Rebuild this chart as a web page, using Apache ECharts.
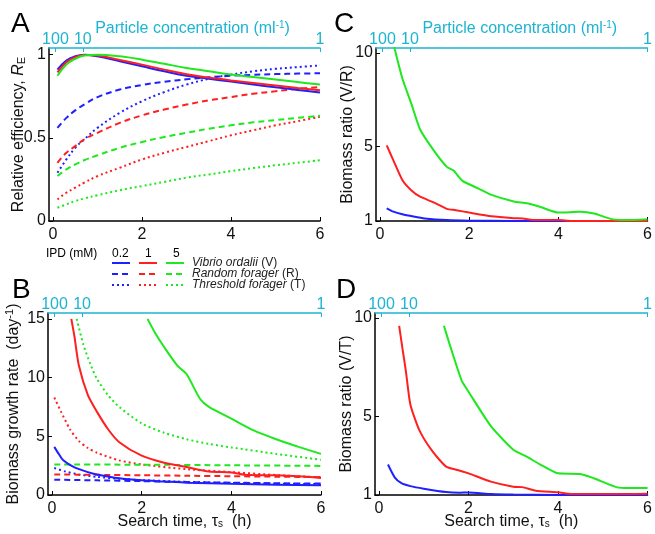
<!DOCTYPE html>
<html>
<head>
<meta charset="utf-8">
<script src="https://cdn.jsdelivr.net/npm/echarts@6/dist/echarts.min.js"></script>
<style>html,body{margin:0;padding:0;background:#fff}#c{width:655px;height:534px}</style>
</head>
<body>
<div id="c"></div>
<script>
// ---------- DATA ----------
const ipdLevels = ['0.2', '1', '5'];
const xTicks = [0, 2, 4, 6];
const topTickPos = [0.055, 0.67, 6];          // search time where concentration = 100, 10, 1
const topTickLabels = ['100', '10', '1'];
const yTicksA = [0, 0.5, 1];
const yTicksB = [0, 5, 10, 15];
const yTicksCD = [1, 5, 10];

// Panel A: relative efficiency
const xA = [0.1, 0.3, 0.5, 0.7, 1, 1.5, 2, 2.5, 3, 3.5, 4, 4.5, 5, 5.5, 6];
const A_V02 = [0.91, 0.965, 0.99, 1.0, 0.99, 0.96, 0.93, 0.9, 0.873, 0.855, 0.838, 0.82, 0.804, 0.788, 0.772];
const A_V1  = [0.893, 0.955, 0.985, 0.998, 0.995, 0.968, 0.94, 0.91, 0.882, 0.862, 0.845, 0.83, 0.815, 0.8, 0.786];
const A_V5  = [0.873, 0.94, 0.975, 0.995, 1.0, 0.99, 0.97, 0.945, 0.92, 0.9, 0.88, 0.865, 0.85, 0.835, 0.82];
const A_R02 = [0.56, 0.62, 0.665, 0.7, 0.745, 0.79, 0.818, 0.837, 0.852, 0.864, 0.873, 0.879, 0.883, 0.886, 0.888];
const A_R1  = [0.35, 0.41, 0.45, 0.49, 0.53, 0.59, 0.635, 0.67, 0.7, 0.725, 0.745, 0.765, 0.78, 0.795, 0.805];
const A_R5  = [0.27, 0.31, 0.34, 0.365, 0.395, 0.44, 0.475, 0.505, 0.53, 0.555, 0.575, 0.593, 0.607, 0.62, 0.632];
const A_T02 = [0.29, 0.37, 0.44, 0.49, 0.56, 0.65, 0.72, 0.775, 0.82, 0.855, 0.88, 0.9, 0.915, 0.925, 0.935];
const A_T1  = [0.13, 0.17, 0.2, 0.23, 0.27, 0.32, 0.37, 0.41, 0.445, 0.48, 0.515, 0.545, 0.575, 0.6, 0.627];
const A_T5  = [0.08, 0.1, 0.12, 0.135, 0.155, 0.185, 0.21, 0.235, 0.26, 0.28, 0.3, 0.318, 0.335, 0.35, 0.365];

// Panel B: biomass growth rate [search time, rate]
const B_V02 = [[0.05,4.1],[0.15,3.5],[0.25,2.95],[0.5,2.35],[0.8,1.95],[1,1.75],[1.5,1.42],[2,1.25],[2.5,1.15],[3,1.05],[4,0.95],[5,0.88],[6,0.82]];
const B_V1  = [[0.43,15],[0.5,13.5],[0.6,11],[0.8,8.5],[1,7.1],[1.25,5.6],[1.5,4.5],[2,3.35],[2.5,2.75],[3,2.38],[3.5,2.0],[4,1.92],[4.3,1.72],[5,1.68],[5.5,1.6],[6,1.45]];
const B_V5  = [[2.13,15],[2.3,13.8],[2.5,12.6],[2.8,11.0],[3.0,10.3],[3.3,8.2],[3.5,7.5],[4,6.5],[4.5,5.5],[5,4.75],[5.5,4.1],[6,3.5]];
const B_R02 = [[0.05,1.3],[1,1.25],[2,1.18],[3,1.1],[4,1.05],[5,1.0],[6,0.97]];
const B_R1  = [[0.05,1.75],[1,1.72],[2,1.68],[3,1.64],[4,1.6],[5,1.56],[6,1.52]];
const B_R5  = [[0.05,2.6],[2,2.58],[4,2.53],[6,2.48]];
const B_T02 = [[0.05,2.3],[0.3,2.0],[0.6,1.75],[1,1.55],[1.5,1.38],[2,1.27],[3,1.12],[4,1.03],[5,0.97],[6,0.92]];
const B_T1  = [[0.05,8.3],[0.2,7.1],[0.4,5.6],[0.6,4.6],[0.8,4.0],[1,3.6],[1.5,2.95],[2,2.6],[3,2.2],[4,1.95],[5,1.7],[6,1.5]];
const B_T5  = [[0.55,15],[0.7,12.8],[0.85,11.2],[1,9.9],[1.25,8.5],[1.5,7.5],[2,6.1],[2.5,5.3],[3,4.75],[3.5,4.35],[4,4.05],[5,3.5],[6,3.0]];

// Panel C: biomass ratio V/R
const C_02 = [[0.15,1.68],[0.3,1.5],[0.5,1.36],[0.75,1.24],[1,1.14],[1.5,1.05],[2,1.02],[3,1.0],[4,1.0],[5,1.0],[6,1.0]];
const C_1  = [[0.15,5.05],[0.3,4.25],[0.5,3.2],[0.7,2.65],[0.9,2.3],[1.2,2.0],[1.5,1.65],[1.7,1.58],[2,1.45],[2.5,1.25],[3,1.15],[3.2,1.13],[3.5,1.05],[4,1.05],[4.3,1.0],[5,1.0],[6,1.0]];
const C_5  = [[0.3,10.5],[0.5,8.65],[0.7,7.3],[0.9,5.9],[1.2,4.8],[1.5,3.9],[1.65,3.7],[1.85,3.15],[2.2,2.75],[2.5,2.4],[3,2.05],[3.3,1.95],[3.6,1.75],[4,1.45],[4.5,1.5],[4.8,1.4],[5.2,1.1],[5.5,1.05],[6,1.1]];

// Panel D: biomass ratio V/T
const D_02 = [[0.2,2.55],[0.35,1.9],[0.5,1.6],[0.7,1.45],[1,1.32],[1.5,1.15],[1.8,1.12],[2,1.13],[2.5,1.05],[3,1.02],[4,1.0],[5,1.0],[6,1.0]];
const D_1  = [[0.45,9.6],[0.52,8.5],[0.6,7.3],[0.7,5.6],[0.9,4.3],[1.2,3.2],[1.5,2.44],[1.75,2.27],[2,2.1],[2.5,1.68],[3,1.42],[3.2,1.4],[3.5,1.22],[4,1.14],[4.3,1.05],[5,1.05],[5.5,1.05],[6,1.06]];
const D_5  = [[1.45,9.6],[1.6,8.5],[1.85,6.8],[2,6.25],[2.5,4.5],[3,3.3],[3.3,2.95],[3.6,2.55],[4,2.1],[4.5,2.07],[4.8,1.85],[5.3,1.4],[5.6,1.35],[6,1.35]];

// ---------- STYLE ----------
const FONT = '"Liberation Sans", Arial, Helvetica, sans-serif';
const COL = ['#1f1fff', '#ff1f1f', '#1ee81e'];
const CYAN = '#1cb4d2';
const DASH = {V: 'solid', R: [6, 4], T: [2, 3]};

const zip = (xs, ys) => xs.map((x, i) => [x, ys[i]]);

function line(name, data, ci, kind, gi, smooth) {
  return {
    type: 'line', name: name, data: data,
    xAxisIndex: gi * 2, yAxisIndex: gi,
    symbol: 'none', smooth: smooth, clip: true, silent: true,
    lineStyle: {color: COL[ci], width: 2, type: DASH[kind]},
    itemStyle: {color: COL[ci]},
    z: kind === 'V' ? 3 : 2
  };
}

const grids = [
  {left: 49, top: 48, width: 271, height: 173},
  {left: 48, top: 313, width: 273, height: 182},
  {left: 376, top: 48, width: 273, height: 173},
  {left: 375, top: 313, width: 273, height: 182}
];

function bottomAxis(gi, withName) {
  return {
    type: 'value', gridIndex: gi, position: 'bottom', min: -0.09, max: 6,
    axisLine: {show: true, onZero: false, lineStyle: {color: '#000', width: 1.5}},
    axisTick: {show: true, inside: true, length: 4, customValues: xTicks, lineStyle: {color: '#000'}},
    axisLabel: {customValues: xTicks, fontSize: 16, color: '#111', margin: 6, fontFamily: FONT},
    splitLine: {show: false},
    name: withName ? '{n|Search time, τ}{s|s}{n|  (h)}' : '',
    nameLocation: 'middle', nameGap: 19, nameMoveOverlap: false,
    nameTextStyle: {fontFamily: FONT, color: '#111', rich: {
      n: {fontSize: 16, fontFamily: FONT, color: '#111'},
      s: {fontSize: 10, fontFamily: FONT, color: '#111', padding: [5, 0, 0, 0]}
    }}
  };
}
function topAxis(gi, withName) {
  return {
    type: 'value', gridIndex: gi, position: 'top', min: -0.09, max: 6,
    axisLine: {show: true, onZero: false, lineStyle: {color: CYAN, width: 1.5}},
    axisTick: {show: true, inside: true, length: 4, customValues: topTickPos, lineStyle: {color: CYAN}},
    axisLabel: {customValues: topTickPos, fontSize: 16, color: CYAN, margin: 0, fontFamily: FONT,
      formatter: v => {
        let best = 0;
        topTickPos.forEach((p, i) => { if (Math.abs(p - v) < Math.abs(topTickPos[best] - v)) best = i; });
        return topTickLabels[best];
      }},
    splitLine: {show: false},
    name: withName ? '{n|Particle concentration (ml}{s|-1}{n|)}' : '',
    nameLocation: 'middle', nameGap: 10, nameMoveOverlap: false,
    nameTextStyle: {padding: [0, 0, 0, 16], rich: {
      n: {fontSize: 16, fontFamily: FONT, color: CYAN},
      s: {fontSize: 10, fontFamily: FONT, color: CYAN, padding: [0, 0, 8, 0]}
    }}
  };
}
function yAxis(gi, min, max, ticks, name, gap, rich) {
  return {
    type: 'value', gridIndex: gi, min: min, max: max,
    axisLine: {show: true, onZero: false, lineStyle: {color: '#000', width: 1.5}},
    axisTick: {show: true, inside: true, length: 4, customValues: ticks, lineStyle: {color: '#000'}},
    axisLabel: {customValues: ticks, fontSize: 16, color: '#111', margin: 3, fontFamily: FONT},
    splitLine: {show: false},
    name: name, nameLocation: 'middle', nameGap: gap, nameRotate: 90, nameMoveOverlap: false,
    nameTextStyle: {fontFamily: FONT, fontSize: 16, color: '#111', rich: rich}
  };
}

const richN = {
  n: {fontSize: 16, fontFamily: FONT, color: '#111'},
  i: {fontSize: 16, fontFamily: FONT, color: '#111', fontStyle: 'italic'},
  sub: {fontSize: 11, fontFamily: FONT, color: '#111', padding: [6, 0, 0, 0]},
  sup: {fontSize: 11, fontFamily: FONT, color: '#111', padding: [0, 0, 8, 0]}
};

const series = [];
const Aset = {V: [A_V02, A_V1, A_V5], R: [A_R02, A_R1, A_R5], T: [A_T02, A_T1, A_T5]};
const Bset = {V: [B_V02, B_V1, B_V5], R: [B_R02, B_R1, B_R5], T: [B_T02, B_T1, B_T5]};
['T', 'R', 'V'].forEach(k => {
  ipdLevels.forEach((lv, ci) => {
    series.push(line(k + lv, zip(xA, Aset[k][ci]), ci, k, 0, 0.4));
  });
});
['T', 'R', 'V'].forEach(k => {
  ipdLevels.forEach((lv, ci) => {
    series.push(line(k + lv, Bset[k][ci], ci, k, 1, 0.25));
  });
});
[C_02, C_1, C_5].forEach((d, ci) => series.push(line('V' + ipdLevels[ci], d, ci, 'V', 2, 0.2)));
[D_02, D_1, D_5].forEach((d, ci) => series.push(line('V' + ipdLevels[ci], d, ci, 'V', 3, 0.2)));

const legendLabels = {V: ['Vibrio ordalii', ' (V)'], R: ['Random forager', ' (R)'], T: ['Threshold forager', ' (T)']};
const legends = ['V', 'R', 'T'].map((k, r) => ({
  left: 111, top: 257 + r * 11, orient: 'horizontal', padding: 0,
  itemWidth: 18, itemHeight: 8, itemGap: 7, selectedMode: false,
  itemStyle: {opacity: 0, color: 'rgba(0,0,0,0)', borderWidth: 0},
  data: ipdLevels.map(lv => k + lv),
  formatter: name => name === k + '5' ? '{i|' + legendLabels[k][0] + '}' + legendLabels[k][1] : '',
  textStyle: {fontSize: 12, fontFamily: FONT, color: '#222', padding: [0, 0, 0, 3], rich: {
    i: {fontSize: 12, fontFamily: FONT, color: '#222', fontStyle: 'italic'}
  }}
}));

function ttl(text, left, top, size) {
  return {text: text, left: left, top: top, padding: 0,
    textStyle: {fontSize: size, fontWeight: 'normal', fontFamily: FONT, color: '#000'}};
}

const option = {
  animation: false,
  backgroundColor: '#fff',
  title: [
    ttl('A', 11, 10, 28), ttl('B', 12, 276, 28), ttl('C', 334, 10, 28), ttl('D', 336, 276, 28),
    ttl('IPD (mM)', 46, 248, 12), ttl('0.2', 112, 248, 12), ttl('1', 145, 248, 12), ttl('5', 173, 248, 12)
  ],
  legend: legends,
  grid: grids,
  xAxis: [
    bottomAxis(0, false), topAxis(0, true),
    bottomAxis(1, true), topAxis(1, false),
    bottomAxis(2, false), topAxis(2, true),
    bottomAxis(3, true), topAxis(3, false)
  ],
  yAxis: [
    yAxis(0, 0, 1.04, yTicksA, '{n|Relative efficiency, }{i|R}{sub|E}', 22, richN),
    yAxis(1, 0, 15.5, yTicksB, '{n|Biomass growth rate  (day}{sup|-1}{n|)}', 25, richN),
    yAxis(2, 1, 10.27, yTicksCD, 'Biomass ratio (V/R)', 20, richN),
    yAxis(3, 1, 10.25, yTicksCD, 'Biomass ratio (V/T)', 20, richN)
  ],
  series: series
};

const chart = echarts.init(document.getElementById('c'), null, {renderer: 'canvas'});
chart.setOption(option);
</script>
</body>
</html>
